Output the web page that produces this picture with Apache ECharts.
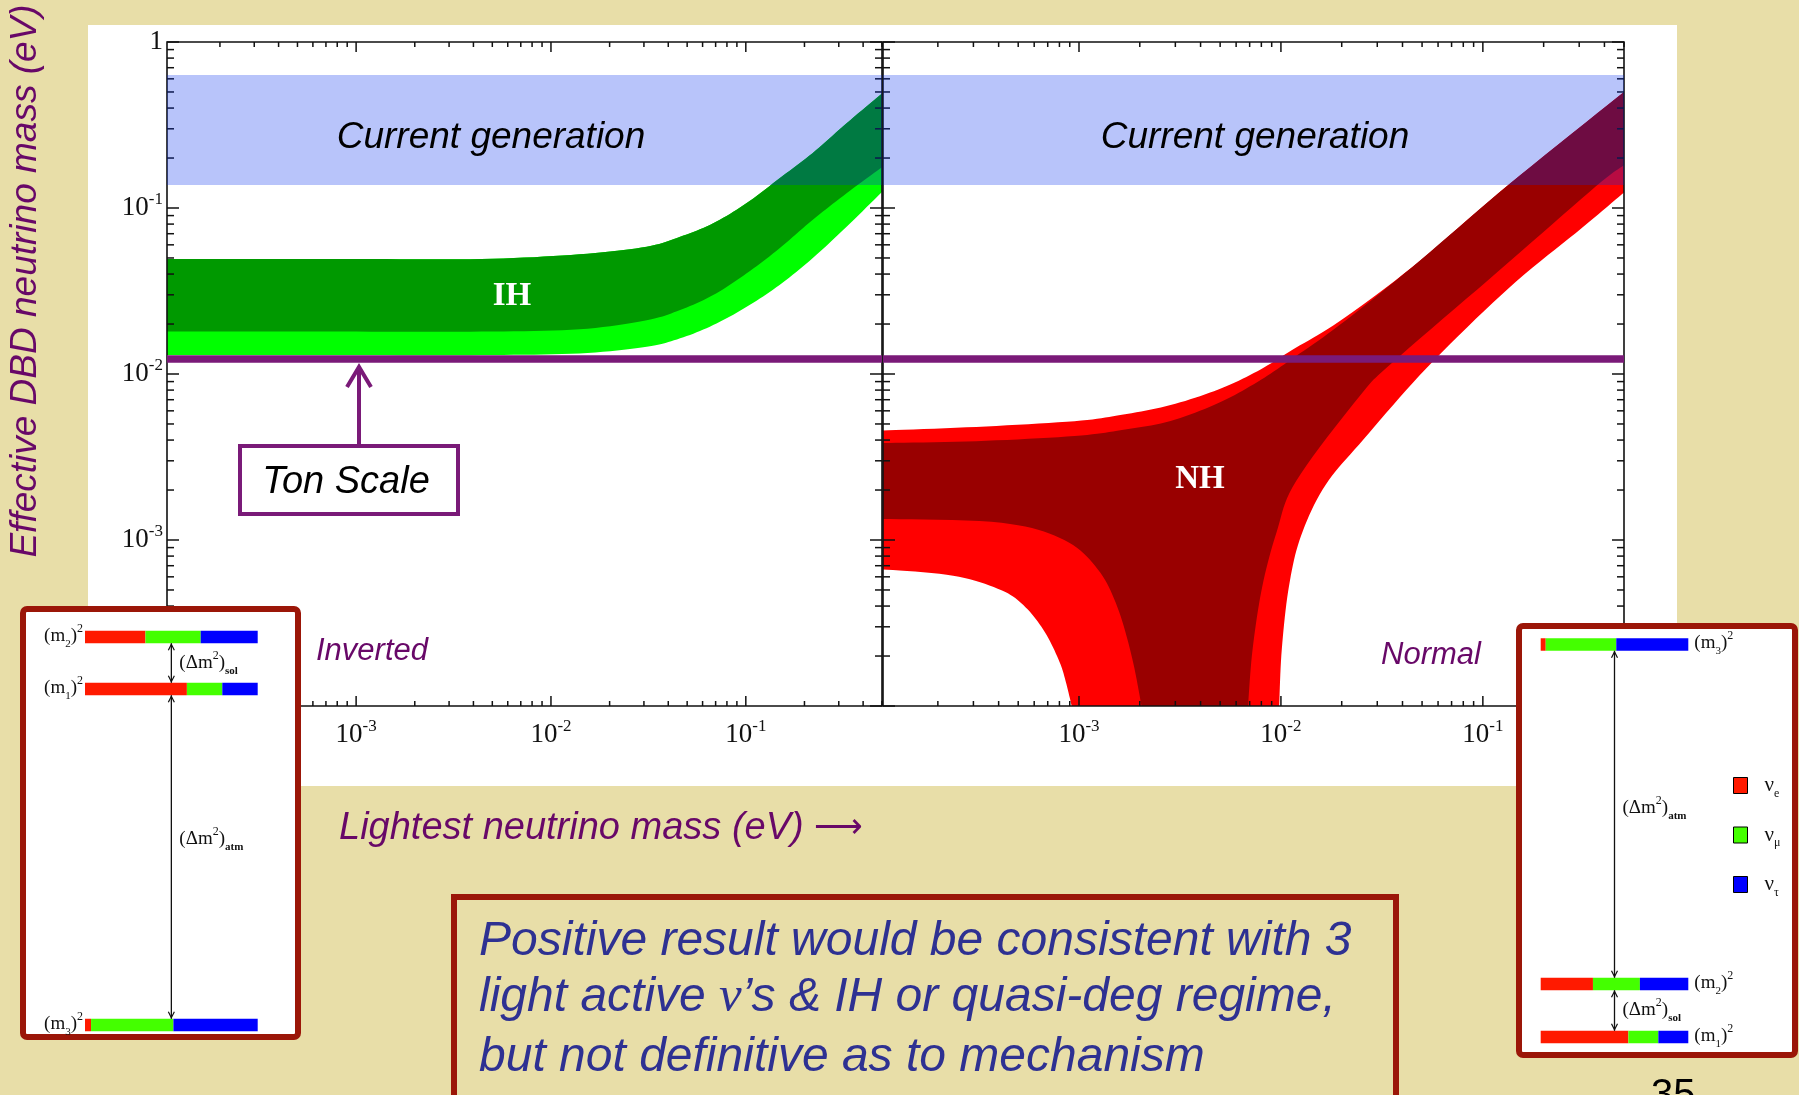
<!DOCTYPE html>
<html>
<head>
<meta charset="utf-8" />
<title>Effective DBD neutrino mass</title>
<script src="https://cdn.jsdelivr.net/npm/echarts@6/dist/echarts.min.js"></script>
<style>
    html, body { margin: 0; padding: 0; background: #e8dea8; }
    #chart { width: 1799px; height: 1095px; }
</style>
</head>
<body>
<div id="chart"></div>
<script type="text/javascript">
    // axis ranges (eV)
    var massRange = [1.07e-4, 0.5];
    var mbbRange = [1e-4, 1];
    var tickSteps = [1, 2, 3, 4, 5, 6, 7, 8, 9];

    // sensitivity levels
    var currentGeneration = [0.1376, 0.633];
    var tonScale = 0.0123;

    // inverted hierarchy band: upper edge, 1 sigma lower edge, 3 sigma lower edge
    var ihMass = [1.07e-4, 0.001, 0.0044, 0.014, 0.031, 0.046, 0.068, 0.101, 0.149, 0.22, 0.329, 0.5];
    var ihTop = [0.0493, 0.0493, 0.0493, 0.0526, 0.0585, 0.0671, 0.0809, 0.107, 0.151, 0.214, 0.324, 0.49];
    var ihMid = [0.018, 0.018, 0.018, 0.0186, 0.0211, 0.0243, 0.0299, 0.0404, 0.0572, 0.0847, 0.1227, 0.176];
    var ihLow = [0.013, 0.013, 0.013, 0.0133, 0.0146, 0.0164, 0.0197, 0.0254, 0.0344, 0.0498, 0.0771, 0.125];

    // normal hierarchy band
    var nhTopMass = [1.07e-4, 3.1e-4, 9.5e-4, 1.63e-3, 2.84e-3, 4.9e-3, 7.65e-3, 0.0113, 0.0195, 0.0446, 0.134, 0.5];
    var nhOuterTop = [0.00457, 0.0048, 0.0052, 0.00568, 0.0065, 0.00807, 0.0104, 0.0139, 0.0208, 0.044, 0.138, 0.5];
    var nhInnerTop = [0.00384, 0.00394, 0.00423, 0.0046, 0.00521, 0.00669, 0.00895, 0.0123, 0.0197, 0.044, 0.138, 0.5];
    var nhInnerRightMass = [6.87e-3, 7.24e-3, 8.09e-3, 9.55e-3, 0.0119, 0.0244, 0.0359, 0.1208, 0.363, 0.5];
    var nhInnerRightVal = [1e-4, 2.2e-4, 5.27e-4, 1.13e-3, 2.27e-3, 7.3e-3, 0.0118, 0.0421, 0.135, 0.181];
    var nhOuterRightMass = [9.8e-3, 0.0101, 0.01096, 0.01258, 0.0166, 0.0258, 0.0528, 0.1346, 0.308, 0.5];
    var nhOuterRightVal = [1e-4, 2.2e-4, 5.27e-4, 1.06e-3, 2.14e-3, 4.07e-3, 0.0109, 0.033, 0.0755, 0.124];
    var nhInnerLeftMass = [2.04e-3, 1.83e-3, 1.55e-3, 1.24e-3, 8.45e-4, 4.13e-4, 1.07e-4];
    var nhInnerLeftVal = [1e-4, 1.96e-4, 3.94e-4, 6.65e-4, 1.0e-3, 1.27e-3, 1.34e-3];
    var nhOuterLeftMass = [9.2e-4, 8.6e-4, 8.0e-4, 6.78e-4, 5.43e-4, 4.13e-4, 2.38e-4, 1.07e-4];
    var nhOuterLeftVal = [1e-4, 1.4e-4, 1.85e-4, 2.78e-4, 3.94e-4, 4.98e-4, 6.1e-4, 6.65e-4];

    // mass level schemes: flavour content of each mass state
    var ihStates = ['2', '1', '3'];
    var ihLevels = [1.0, 0.866, 0.0];
    var ihNuE = [0.35, 0.59, 0.035];
    var ihNuMu = [0.32, 0.205, 0.477];
    var ihNuTau = [0.33, 0.205, 0.488];
    var ihSplits = [[0, 1, 'sol'], [1, 2, 'atm']];

    var nhStates = ['3', '2', '1'];
    var nhLevels = [1.0, 0.135, 0.0];
    var nhNuE = [0.034, 0.354, 0.594];
    var nhNuMu = [0.478, 0.318, 0.203];
    var nhNuTau = [0.488, 0.328, 0.203];
    var nhSplits = [[0, 1, 'atm'], [1, 2, 'sol']];

    var flavourNames = ['νe', 'νμ', 'ντ'];
    var flavourColors = ['#ff1a00', '#44ff00', '#0000ff'];

    var PURPLE = '#7a1a78';
    var LABEL_PURPLE = '#680868';
    var BOX_RED = '#9b1608';
    var SERIF = '"Liberation Serif", "Times New Roman", serif';
    var SANS = '"Liberation Sans", Arial, sans-serif';

    function line(x1, y1, x2, y2, color, w) {
        return { type: 'line', shape: { x1: x1, y1: y1, x2: x2, y2: y2 },
            style: { stroke: color || '#111', lineWidth: w || 1.5 } };
    }

    function toPx(api, xs, ys) {
        return xs.map(function (x, i) { return api.coord([x, ys[i]]); });
    }

    // catmull-rom through the read points, in pixel space
    function smooth(pts) {
        var out = [], n = 10;
        for (var i = 0; i < pts.length - 1; i++) {
            var p0 = pts[Math.max(i - 1, 0)], p1 = pts[i], p2 = pts[i + 1], p3 = pts[Math.min(i + 2, pts.length - 1)];
            for (var t = 0; t < n; t++) {
                var s = t / n, s2 = s * s, s3 = s2 * s;
                out.push([0, 1].map(function (k) {
                    return 0.5 * (2 * p1[k] + (p2[k] - p0[k]) * s +
                        (2 * p0[k] - 5 * p1[k] + 4 * p2[k] - p3[k]) * s2 +
                        (3 * p1[k] - p0[k] - 3 * p2[k] + p3[k]) * s3);
                }));
            }
        }
        out.push(pts[pts.length - 1]);
        return out;
    }

    function renderFrame(params, api) {
        var cs = params.coordSys;
        var x0 = cs.x, x1 = cs.x + cs.width, y0 = cs.y, y1 = cs.y + cs.height;
        var kids = [{ type: 'rect', shape: { x: x0, y: y0, width: cs.width, height: cs.height },
            style: { fill: 'none', stroke: '#111', lineWidth: 1.6 } }];
        for (var e = -4; e <= 0; e++) {
            tickSteps.forEach(function (k) {
                var v = k * Math.pow(10, e);
                var major = k === 1;
                if (v >= massRange[0] && v <= massRange[1]) {
                    var x = api.coord([v, mbbRange[0]])[0];
                    var lx = major ? 10 : 5;
                    kids.push(line(x, y1, x, y1 - lx), line(x, y0, x, y0 + lx));
                }
                if (v >= mbbRange[0] && v <= mbbRange[1]) {
                    var y = api.coord([massRange[0], v])[1];
                    var ly = major ? 12 : 7;
                    kids.push(line(x0, y, x0 + ly, y), line(x1, y, x1 - ly, y));
                }
            });
        }
        return { type: 'group', children: kids };
    }

    function renderIH(params, api) {
        var top = smooth(toPx(api, ihMass, ihTop));
        var mid = smooth(toPx(api, ihMass, ihMid)).reverse();
        var low = smooth(toPx(api, ihMass, ihLow)).reverse();
        return { type: 'group', children: [
            { type: 'polygon', shape: { points: top.concat(low) }, style: { fill: '#00ff00' } },
            { type: 'polygon', shape: { points: top.concat(mid) }, style: { fill: '#009900' } }
        ] };
    }

    function renderNH(params, api) {
        var outer = smooth(toPx(api, nhTopMass, nhOuterTop))
            .concat(smooth(toPx(api, nhOuterRightMass, nhOuterRightVal)).reverse())
            .concat(smooth(toPx(api, nhOuterLeftMass, nhOuterLeftVal)));
        var inner = smooth(toPx(api, nhTopMass, nhInnerTop))
            .concat(smooth(toPx(api, nhInnerRightMass, nhInnerRightVal)).reverse())
            .concat(smooth(toPx(api, nhInnerLeftMass, nhInnerLeftVal)));
        return { type: 'group', children: [
            { type: 'polygon', shape: { points: outer }, style: { fill: '#ff0000' } },
            { type: 'polygon', shape: { points: inner }, style: { fill: '#990000' } }
        ] };
    }

    function renderBand(params, api) {
        var a = api.coord([massRange[0], currentGeneration[1]]);
        var b = api.coord([massRange[1], currentGeneration[0]]);
        return { type: 'rect', shape: { x: a[0], y: a[1], width: b[0] - a[0], height: b[1] - a[1] },
            style: { fill: 'rgba(0,43,237,0.28)' } };
    }

    var BAR_H = 12.5;
    function renderBar(params, api) {
        var a = api.coord([api.value(0), api.value(2)]);
        var b = api.coord([api.value(1), api.value(2)]);
        return { type: 'rect', shape: { x: a[0], y: a[1] - BAR_H / 2, width: b[0] - a[0], height: BAR_H },
            style: { fill: api.visual('color') } };
    }

    var insetRich = {
        t: { fontFamily: SERIF, fontSize: 19, lineHeight: 27, fill: '#111' },
        d: { fontFamily: SERIF, fontSize: 11, lineHeight: 11, verticalAlign: 'bottom', fill: '#111' },
        p: { fontFamily: SERIF, fontSize: 12, lineHeight: 12, verticalAlign: 'top', fill: '#111' },
        b: { fontFamily: SERIF, fontSize: 11, lineHeight: 11, verticalAlign: 'bottom', fill: '#111', fontWeight: 'bold' }
    };

    function levelRenderer(levels, states, splits, labelsLeft, atmShift) {
        return function (params, api) {
            var kids = [];
            var ax = api.coord([0.5, 0])[0];
            splits.forEach(function (sp) {
                var yA = api.coord([0.5, levels[sp[0]]])[1] + BAR_H / 2;
                var yB = api.coord([0.5, levels[sp[1]]])[1] - BAR_H / 2;
                kids.push(line(ax, yA, ax, yB, '#111', 1.3));
                kids.push({ type: 'polyline', shape: { points: [[ax - 3, yA + 7], [ax, yA + 1], [ax + 3, yA + 7]] },
                    style: { stroke: '#111', lineWidth: 1.2, fill: 'none' } });
                kids.push({ type: 'polyline', shape: { points: [[ax - 3, yB - 7], [ax, yB - 1], [ax + 3, yB - 7]] },
                    style: { stroke: '#111', lineWidth: 1.2, fill: 'none' } });
                kids.push({ type: 'text', style: {
                    text: '{t|(Δm}{p|2}{t|)}{b|' + sp[2] + '}', rich: insetRich,
                    x: ax + 8, y: (yA + yB) / 2 + (sp[2] === 'atm' ? atmShift : 0),
                    align: 'left', verticalAlign: 'middle' } });
            });
            levels.forEach(function (lv, i) {
                var p = labelsLeft ? api.coord([0, lv]) : api.coord([1, lv]);
                kids.push({ type: 'text', style: {
                    text: '{t|(m}{d|' + states[i] + '}{t|)}{p|2}', rich: insetRich,
                    x: labelsLeft ? p[0] - 2 : p[0] + 6, y: p[1] - 1,
                    align: labelsLeft ? 'right' : 'left', verticalAlign: 'middle' } });
            });
            return { type: 'group', children: kids };
        };
    }

    function flavourData(levels, shares, f) {
        return levels.map(function (lv, i) {
            var start = 0;
            for (var j = 0; j < f; j++) start += shares[j][i];
            return [start, start + shares[f][i], lv];
        });
    }

    function powerLabel(v) {
        var e = Math.round(Math.log10(v));
        if (Math.abs(Math.log10(v) - e) > 1e-6) return '';
        if (e === 0) return '{b|1}';
        return '{b|10}{s|' + e + '}';
    }
    var tickRich = {
        b: { fontFamily: SERIF, fontSize: 27, lineHeight: 34, color: '#111' },
        s: { fontFamily: SERIF, fontSize: 17, lineHeight: 16, verticalAlign: 'top', color: '#111' }
    };

    function logX(grid, showLabels) {
        return { gridIndex: grid, type: 'log', logBase: 10, min: massRange[0], max: massRange[1], z: 5,
            axisLine: { show: false }, axisTick: { show: false }, splitLine: { show: false },
            axisLabel: { show: showLabels, formatter: powerLabel, rich: tickRich, margin: 12 } };
    }
    function logY(grid, showLabels) {
        return { gridIndex: grid, type: 'log', logBase: 10, min: mbbRange[0], max: mbbRange[1], z: 5,
            axisLine: { show: false }, axisTick: { show: false }, splitLine: { show: false },
            axisLabel: { show: showLabels, formatter: powerLabel, rich: tickRich, margin: 4 } };
    }
    function plainAxis(grid) {
        return { gridIndex: grid, type: 'value', min: 0, max: 1, show: false };
    }

    var series = [
        { type: 'custom', xAxisIndex: 0, yAxisIndex: 0, z: 2, clip: true, renderItem: renderIH, data: [[0.01, 0.01]], silent: true },
        { type: 'custom', xAxisIndex: 1, yAxisIndex: 1, z: 2, clip: true, renderItem: renderNH, data: [[0.01, 0.01]], silent: true },
        { type: 'custom', xAxisIndex: 0, yAxisIndex: 0, z: 3, clip: false, renderItem: renderFrame, data: [[0.01, 0.01]], silent: true },
        { type: 'custom', xAxisIndex: 1, yAxisIndex: 1, z: 3, clip: false, renderItem: renderFrame, data: [[0.01, 0.01]], silent: true },
        { type: 'custom', xAxisIndex: 0, yAxisIndex: 0, z: 4, renderItem: renderBand, data: [[0.01, 0.01]], silent: true },
        { type: 'custom', xAxisIndex: 1, yAxisIndex: 1, z: 4, renderItem: renderBand, data: [[0.01, 0.01]], silent: true },
        { type: 'line', xAxisIndex: 0, yAxisIndex: 0, z: 5, symbol: 'none', silent: true,
            lineStyle: { color: PURPLE, width: 7.5 }, data: [[massRange[0], tonScale], [massRange[1], tonScale]] },
        { type: 'line', xAxisIndex: 1, yAxisIndex: 1, z: 5, symbol: 'none', silent: true,
            lineStyle: { color: PURPLE, width: 7.5 }, data: [[massRange[0], tonScale], [massRange[1], tonScale]] }
    ];

    [[ihNuE, ihNuMu, ihNuTau, ihLevels, 2], [nhNuE, nhNuMu, nhNuTau, nhLevels, 3]].forEach(function (set) {
        var shares = [set[0], set[1], set[2]];
        flavourNames.forEach(function (name, f) {
            series.push({ type: 'custom', name: name, xAxisIndex: set[4], yAxisIndex: set[4], z: 40,
                itemStyle: { color: flavourColors[f] }, encode: { x: [0, 1], y: 2 },
                renderItem: renderBar, data: flavourData(set[3], shares, f), silent: true });
        });
    });
    series.push({ type: 'custom', xAxisIndex: 2, yAxisIndex: 2, z: 41, clip: false, silent: true,
        renderItem: levelRenderer(ihLevels, ihStates, ihSplits, true, -18), data: [[0.5, 0.5]] });
    series.push({ type: 'custom', xAxisIndex: 3, yAxisIndex: 3, z: 41, clip: false, silent: true,
        renderItem: levelRenderer(nhLevels, nhStates, nhSplits, false, -6), data: [[0.5, 0.5]] });

    function txt(x, y, text, font, fill, align, extra) {
        var el = { type: 'text', x: x, y: y, z: 10, silent: true,
            style: { text: text, font: font, fill: fill, align: align || 'center', verticalAlign: 'middle' } };
        for (var k in extra || {}) el[k] = extra[k];
        return el;
    }

    var BLUE_TEXT = '#2e3192';
    var graphics = [
        { type: 'rect', z: -10, silent: true, shape: { x: 88, y: 25, width: 1589, height: 761 }, style: { fill: '#ffffff' } },
        txt(491, 138, 'Current generation', 'italic 37px ' + SANS, '#000'),
        txt(1255, 138, 'Current generation', 'italic 37px ' + SANS, '#000'),
        txt(512, 296, 'IH', 'bold 33px ' + SERIF, '#ffffff'),
        txt(1200, 479, 'NH', 'bold 33px ' + SERIF, '#ffffff'),
        txt(316, 651, 'Inverted', 'italic 31px ' + SANS, LABEL_PURPLE, 'left'),
        txt(1381, 655, 'Normal', 'italic 31px ' + SANS, LABEL_PURPLE, 'left'),
        // ton scale call-out
        { type: 'line', z: 10, silent: true, shape: { x1: 359, y1: 446, x2: 359, y2: 367 }, style: { stroke: PURPLE, lineWidth: 4 } },
        { type: 'polyline', z: 10, silent: true, shape: { points: [[347, 387], [359, 367], [371, 387]] },
            style: { stroke: PURPLE, lineWidth: 4, fill: 'none' } },
        { type: 'rect', z: 10, silent: true, shape: { x: 240, y: 446, width: 218, height: 68 },
            style: { fill: '#ffffff', stroke: PURPLE, lineWidth: 4 } },
        txt(346, 482, 'Ton Scale', 'italic 38px ' + SANS, '#000'),
        // axis titles
        txt(26, 281, 'Effective DBD neutrino mass (eV)', 'italic 37px ' + SANS, LABEL_PURPLE, 'center', { rotation: Math.PI / 2 }),
        { type: 'text', x: 339, y: 828, z: 10, silent: true, style: {
            text: '{a|Lightest neutrino mass (eV) }{r|⟶}', align: 'left', verticalAlign: 'middle',
            rich: { a: { font: 'italic 38px ' + SANS, fill: LABEL_PURPLE }, r: { font: '34px ' + SERIF, fill: LABEL_PURPLE } } } },
        // inset frames
        { type: 'rect', z: 30, silent: true, shape: { x: 23, y: 609, width: 275, height: 428, r: 4 },
            style: { fill: '#ffffff', stroke: BOX_RED, lineWidth: 6 } },
        { type: 'rect', z: 30, silent: true, shape: { x: 1519, y: 626, width: 276, height: 429, r: 4 },
            style: { fill: '#ffffff', stroke: BOX_RED, lineWidth: 6 } },
        // conclusion box
        { type: 'rect', z: 10, silent: true, shape: { x: 454, y: 897, width: 942, height: 220 },
            style: { fill: 'none', stroke: BOX_RED, lineWidth: 6 } },
        txt(479, 942, 'Positive result would be consistent with 3', 'italic 48px ' + SANS, BLUE_TEXT, 'left'),
        { type: 'text', x: 479, y: 998, z: 10, silent: true, style: {
            text: '{a|light active }{n|ν}{a|’s & IH or quasi-deg regime,}', align: 'left', verticalAlign: 'middle',
            rich: { a: { font: 'italic 48px ' + SANS, fill: BLUE_TEXT }, n: { font: 'italic 51px ' + SERIF, fill: BLUE_TEXT } } } },
        txt(479, 1058, 'but not definitive as to mechanism', 'italic 48px ' + SANS, BLUE_TEXT, 'left'),
        txt(1651, 1096, '35', '40px ' + SANS, '#000', 'left')
    ];

    var chart = echarts.init(document.getElementById('chart'));
    chart.setOption({
        backgroundColor: '#e8dea8',
        animation: false,
        grid: [
            { left: 167, top: 42, width: 715, height: 664 },
            { left: 883, top: 42, width: 741, height: 664 },
            { left: 85, top: 637, width: 172.7, height: 388 },
            { left: 1540.7, top: 644.5, width: 147.6, height: 392.5 }
        ],
        xAxis: [logX(0, true), logX(1, true), plainAxis(2), plainAxis(3)],
        yAxis: [logY(0, true), logY(1, false), plainAxis(2), plainAxis(3)],
        legend: {
            data: flavourNames, orient: 'vertical', left: 1728, top: 770, z: 50,
            itemWidth: 14, itemHeight: 16, itemGap: 25, icon: 'rect', selectedMode: false,
            itemStyle: { borderColor: '#000', borderWidth: 1 },
            formatter: function (name) { return '{n|ν}{s|' + name.slice(1) + '}'; },
            textStyle: { rich: {
                n: { fontFamily: SERIF, fontSize: 21, lineHeight: 28, color: '#111', padding: [0, 0, 0, 12] },
                s: { fontFamily: SERIF, fontSize: 12, lineHeight: 12, verticalAlign: 'bottom', color: '#111' }
            } }
        },
        graphic: { elements: graphics },
        series: series
    });
</script>
</body>
</html>
